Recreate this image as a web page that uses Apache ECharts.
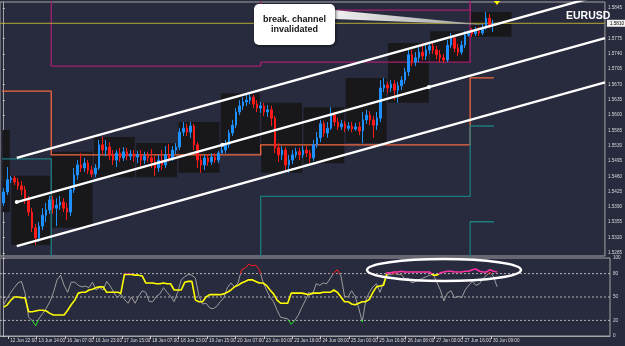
<!DOCTYPE html>
<html><head><meta charset="utf-8">
<script src="https://cdn.jsdelivr.net/npm/echarts@6/dist/echarts.min.js"></script>
<style>html,body{margin:0;padding:0;background:#282a3e;}#c{width:625px;height:346px;}</style>
</head><body><div id="c"></div>
<script>
// 2-hour candles [open, close, low, high]; candle i covers hourly bars 2i and 2i+1
const candles = [
[1.5399,1.5424,1.5392,1.5433],[1.5424,1.5452,1.5417,1.5481],[1.5452,1.5456,1.5445,1.5461],[1.5456,1.5447,1.5440,1.5461],
[1.5447,1.5438,1.5429,1.5456],[1.5438,1.5429,1.5417,1.5449],[1.5429,1.5406,1.5397,1.5438],[1.5406,1.5378,1.5369,1.5415],
[1.5378,1.5342,1.5333,1.5387],[1.5342,1.5319,1.5303,1.5351],[1.5319,1.5346,1.5310,1.5355],[1.5346,1.5371,1.5337,1.5387],
[1.5371,1.5383,1.5355,1.5399],[1.5383,1.5406,1.5374,1.5415],[1.5406,1.5387,1.5374,1.5415],[1.5387,1.5394,1.5346,1.5410],
[1.5394,1.5401,1.5383,1.5415],[1.5401,1.5387,1.5378,1.5410],[1.5387,1.5378,1.5360,1.5399],[1.5378,1.5429,1.5369,1.5438],
[1.5429,1.5463,1.5422,1.5479],[1.5463,1.5486,1.5452,1.5497],[1.5486,1.5479,1.5470,1.5513],[1.5479,1.5490,1.5470,1.5502],
[1.5490,1.5474,1.5465,1.5497],[1.5474,1.5465,1.5458,1.5484],[1.5465,1.5479,1.5458,1.5488],[1.5479,1.5532,1.5474,1.5543],
[1.5532,1.5520,1.5511,1.5550],[1.5520,1.5527,1.5506,1.5543],[1.5527,1.5509,1.5497,1.5538],[1.5509,1.5497,1.5486,1.5520],
[1.5497,1.5513,1.5481,1.5520],[1.5513,1.5502,1.5493,1.5525],[1.5502,1.5516,1.5495,1.5527],[1.5516,1.5506,1.5497,1.5525],
[1.5506,1.5511,1.5497,1.5520],[1.5511,1.5504,1.5493,1.5520],[1.5504,1.5509,1.5490,1.5518],[1.5509,1.5497,1.5484,1.5520],
[1.5497,1.5506,1.5488,1.5516],[1.5506,1.5502,1.5493,1.5516],[1.5502,1.5493,1.5479,1.5522],[1.5493,1.5479,1.5461,1.5506],
[1.5479,1.5497,1.5470,1.5509],[1.5497,1.5486,1.5474,1.5520],[1.5486,1.5509,1.5479,1.5529],[1.5509,1.5502,1.5493,1.5534],
[1.5502,1.5520,1.5495,1.5529],[1.5520,1.5527,1.5511,1.5536],[1.5527,1.5561,1.5520,1.5570],[1.5561,1.5570,1.5552,1.5584],
[1.5570,1.5561,1.5552,1.5580],[1.5561,1.5575,1.5548,1.5584],[1.5575,1.5532,1.5520,1.5580],[1.5532,1.5497,1.5479,1.5538],
[1.5497,1.5486,1.5468,1.5509],[1.5486,1.5502,1.5474,1.5509],[1.5502,1.5493,1.5484,1.5511],[1.5493,1.5504,1.5486,1.5513],
[1.5504,1.5497,1.5490,1.5513],[1.5497,1.5513,1.5490,1.5518],[1.5513,1.5520,1.5513,1.5529],[1.5520,1.5532,1.5513,1.5543],
[1.5532,1.5559,1.5525,1.5566],[1.5559,1.5577,1.5552,1.5589],[1.5577,1.5607,1.5570,1.5616],[1.5607,1.5621,1.5600,1.5634],
[1.5621,1.5630,1.5612,1.5641],[1.5630,1.5634,1.5621,1.5648],[1.5634,1.5641,1.5625,1.5650],[1.5641,1.5625,1.5616,1.5646],
[1.5625,1.5616,1.5607,1.5634],[1.5616,1.5621,1.5605,1.5630],[1.5621,1.5607,1.5598,1.5628],[1.5607,1.5612,1.5596,1.5623],
[1.5612,1.5593,1.5575,1.5621],[1.5593,1.5525,1.5513,1.5598],[1.5525,1.5509,1.5493,1.5536],[1.5509,1.5520,1.5497,1.5529],
[1.5520,1.5486,1.5474,1.5527],[1.5486,1.5497,1.5468,1.5509],[1.5497,1.5509,1.5488,1.5520],[1.5509,1.5516,1.5502,1.5525],
[1.5516,1.5509,1.5497,1.5525],[1.5509,1.5520,1.5502,1.5529],[1.5520,1.5513,1.5504,1.5529],[1.5513,1.5502,1.5490,1.5520],
[1.5502,1.5532,1.5495,1.5543],[1.5532,1.5548,1.5525,1.5561],[1.5548,1.5580,1.5538,1.5589],[1.5580,1.5559,1.5550,1.5587],
[1.5559,1.5570,1.5548,1.5584],[1.5570,1.5600,1.5566,1.5618],[1.5600,1.5584,1.5575,1.5607],[1.5584,1.5573,1.5566,1.5593],
[1.5573,1.5580,1.5566,1.5589],[1.5580,1.5570,1.5561,1.5587],[1.5570,1.5575,1.5564,1.5584],[1.5575,1.5568,1.5561,1.5584],
[1.5568,1.5573,1.5564,1.5582],[1.5573,1.5564,1.5554,1.5584],[1.5564,1.5589,1.5536,1.5607],[1.5589,1.5600,1.5580,1.5612],
[1.5600,1.5589,1.5577,1.5609],[1.5589,1.5577,1.5548,1.5598],[1.5577,1.5593,1.5566,1.5607],[1.5593,1.5662,1.5584,1.5680],
[1.5662,1.5669,1.5653,1.5685],[1.5669,1.5662,1.5650,1.5676],[1.5662,1.5671,1.5653,1.5680],[1.5671,1.5657,1.5634,1.5680],
[1.5657,1.5667,1.5628,1.5676],[1.5667,1.5680,1.5657,1.5689],[1.5680,1.5699,1.5671,1.5708],[1.5699,1.5738,1.5689,1.5749],
[1.5738,1.5721,1.5712,1.5749],[1.5721,1.5731,1.5712,1.5744],[1.5731,1.5744,1.5721,1.5758],[1.5744,1.5735,1.5726,1.5765],
[1.5735,1.5749,1.5726,1.5763],[1.5749,1.5758,1.5740,1.5767],[1.5758,1.5749,1.5740,1.5767],[1.5749,1.5738,1.5728,1.5758],
[1.5738,1.5731,1.5721,1.5749],[1.5731,1.5726,1.5719,1.5740],[1.5726,1.5760,1.5721,1.5772],[1.5760,1.5776,1.5753,1.5788],
[1.5776,1.5753,1.5744,1.5783],[1.5753,1.5744,1.5735,1.5763],[1.5744,1.5760,1.5738,1.5770],[1.5760,1.5783,1.5753,1.5792],
[1.5783,1.5790,1.5779,1.5792],[1.5790,1.5786,1.5779,1.5799],[1.5786,1.5792,1.5781,1.5802],[1.5792,1.5788,1.5781,1.5802],
[1.5788,1.5799,1.5783,1.5808],[1.5799,1.5822,1.5795,1.5836],[1.5822,1.5806,1.5799,1.5831],[1.5806,1.5810,1.5790,1.5818]
];
// oscillators (one value per 2-hour bar)
const fastOsc = [40,49,56,62,68,70,55,24,20,13, 23,29,36,44,56,72,78,65,56,69, 69,65,63,64,62,69,59,62,59,70,
 64,56,49,54,47,42,50,42,51,58, 56,44,44,51,54,62,56,51,44,56, 72,76,79,78,74,51,41,42,36,35,
 38,44,49,62,68,63,68,85,87,92, 90,91,85,70,59,50,44,33,24,23, 22,15,20,27,37,46,56,53,67,65,
 68,67,74,81,85,77,51,50,58,51, 36,18,46,56,63,67,56,69,78,79, 80,79,79,73,74,68,70,72,74,76,
 78,79,69,59,45,55,58,49,51,49, 59,65,70,65,67,73,78,82,76,63];
const slowOsc = [37,40,46,50,50,49,49,31,31,32, 33,33,32,29,27,27,27,27,33,40, 46,55,56,56,59,60,62,63,63,56,
 56,56,56,55,79,79,79,78,78,77, 68,68,68,67,67,68,67,67,59,59, 59,69,70,70,46,44,44,50,53,53,
 53,53,54,56,59,63,65,68,70,72, 72,70,68,68,65,59,54,46,42,42, 42,55,55,55,55,54,53,55,55,55,
 56,56,56,59,56,50,44,44,41,40, 42,44,44,47,56,63,64,65,81,81, 82,82,83,82,82,82,82,82,82,82,
 82,78,78,81,82,83,83,82,82,82, 83,83,85,86,83,82,82,85,83,82];
// axes
const timeTickHours = [3,19,35,51,67,83,99,115,131,147,163,179,195,211,227,243,259,275];
const timeTickLabels = ['12 Jun 22:00','13 Jun 14:00','16 Jun 07:00','16 Jun 23:00','17 Jun 15:00','18 Jun 07:00',
 '18 Jun 23:00','19 Jun 15:00','20 Jun 07:00','23 Jun 00:00','23 Jun 16:00','24 Jun 08:00','25 Jun 00:00',
 '25 Jun 16:00','26 Jun 08:00','27 Jun 00:00','27 Jun 16:00','30 Jun 09:00'];
const priceTicks = [1.5285,1.5320,1.5355,1.5390,1.5425,1.5460,1.5495,1.5530,1.5565,1.5600,1.5635,1.5670,1.5705,1.5740,1.5775,1.5810,1.5845];
const oscTicks = [0,20,50,80,100];
const oscLevels = [20,50,80];
// daily range boxes (hour index of first/last bar of each day, day high/low)
const dayFirstHour = [0,5,28,52,76,100,124,147,171,195,219,243,266];
const dayLastHour  = [4,27,51,75,99,123,146,170,194,218,242,265,289];
const dayHigh = [1.5566,1.5461,1.5516,1.5550,1.5536,1.5584,1.5650,1.5628,1.5618,1.5685,1.5765,1.5792,1.5836];
const dayLow  = [1.5378,1.5303,1.5342,1.5458,1.5458,1.5468,1.5513,1.5468,1.5490,1.5536,1.5628,1.5719,1.5779];
// weekly levels (values outside the visible range are drawn off-chart)
const weekEdges = [-0.5,27.5,146.5,265.5,279];
const magentaLow  = [1.5950,1.5712,1.5721,1.5950];
const magentaHigh = [1.5950,1.5950,1.5840,1.5950];
const orangeLevel = [1.5655,1.5509,1.5532,1.5685];
const tealHigh = [1.5500,1.5150,1.5414,1.5575];
const tealLow  = [1.5150,1.5150,1.5150,1.5356];
// channel (hour, price)
const channelHours = [7.9,342.1];
const upperChannel = [1.5502,1.5877];
const lowerChannel = [1.5300,1.5675];
const middleHours  = [7.9,124.75,242.1,342.1];
const middleChannel = [1.5401,1.5532,1.5664,1.5776];

const FONT = 'Liberation Sans';
const XMIN=-1.62, XMAX=342.1;
const lastClose = candles[candles.length-1][1];
const candleData = candles.map((c,i)=>[2*i+0.5, c[0], c[1], c[2], c[3]]);
const oscX = i => 2*i+0.5;
const fastData = fastOsc.map((v,i)=>[oscX(i),v]);
const slowData = slowOsc.map((v,i)=>[oscX(i),v]);
const boxAreas = dayFirstHour.map((f,k)=>[{coord:[f-0.2, dayHigh[k]]},{coord:[dayLastHour[k], dayLow[k]]}]);
function stepData(levels){const d=[];levels.forEach((v,k)=>{d.push([weekEdges[k],v],[weekEdges[k+1],v]);});return d;}
function stepSeries(levels,color){return {type:'line',xAxisIndex:0,yAxisIndex:0,data:stepData(levels),symbol:'none',
  lineStyle:{color:color,width:1.3},silent:true,z:3,clip:true};}
function chanSeries(hours,prices,withDots){return {type:'line',xAxisIndex:0,yAxisIndex:0,
  data:hours.map((h,k)=>({value:[h,prices[k]],symbolSize:(withDots&&k<hours.length-1)?4:0})),
  symbol:'circle',showSymbol:true,itemStyle:{color:'#fff'},lineStyle:{color:'#fff',width:2.4},silent:true,z:6,clip:true};}
function levelSeries(v){return {type:'line',xAxisIndex:1,yAxisIndex:1,data:[[XMIN,v],[XMAX,v]],symbol:'none',silent:true,z:1,
  lineStyle:{color:'#b4b4b4',width:1,type:[2,2]}};}

const chart = echarts.init(document.getElementById('c'),null,{renderer:'canvas'});
const series = [
    // 0 candles with daily range boxes
    {type:'candlestick',xAxisIndex:0,yAxisIndex:0,data:candleData,barWidth:2,z:4,silent:true,
     itemStyle:{color:'#1e90ff',color0:'#ff1a1a',borderColor:'#1e90ff',borderColor0:'#ff1a1a',borderWidth:1},
     markArea:{silent:true,z:1,itemStyle:{color:'#18181b',borderWidth:0},label:{show:false},data:boxAreas}},
    // 1-5 weekly level lines
    stepSeries(magentaLow,'#a3206f'),
    stepSeries(magentaHigh,'#a3206f'),
    stepSeries(orangeLevel,'#f2683f'),
    stepSeries(tealHigh,'#1d7c7e'),
    stepSeries(tealLow,'#1d7c7e'),
    // 6 bid line
    {type:'line',xAxisIndex:0,yAxisIndex:0,data:[[XMIN,lastClose],[XMAX,lastClose]],symbol:'none',silent:true,z:3,
     lineStyle:{color:'#b5aa34',width:1},
     endLabel:{show:true,formatter:lastClose.toFixed(4),backgroundColor:'#f2f2f2',color:'#000',
       fontSize:4.6,fontFamily:FONT,padding:[1,3],distance:2}},
    // 7-9 channel
    chanSeries(channelHours,upperChannel,false),
    chanSeries(middleHours,middleChannel,true),
    chanSeries(channelHours,lowerChannel,false),
    // 10 fast oscillator
    {type:'line',xAxisIndex:1,yAxisIndex:1,data:fastData,symbol:'none',lineStyle:{width:1},z:3,silent:true},
    // 11 slow oscillator
    {type:'line',xAxisIndex:1,yAxisIndex:1,data:slowData,symbol:'none',lineStyle:{width:1.6},z:4,silent:true}
];
oscLevels.forEach(v=>series.push(levelSeries(v)));

chart.setOption({
  animation:false,
  backgroundColor:'#282a3e',
  title:{text:'EURUSD',left:561,top:6,textStyle:{color:'#ffffff',fontSize:10.5,fontWeight:'bold',fontFamily:FONT}},
  grid:[
    {left:-2,right:15,top:2,height:254,show:true,borderColor:'#a4a4a4',borderWidth:1,backgroundColor:'transparent'},
    {left:-2,right:15,top:258,height:78,show:true,borderColor:'#a4a4a4',borderWidth:1,backgroundColor:'transparent'}
  ],
  xAxis:[
    {type:'value',gridIndex:0,min:XMIN,max:XMAX,show:false},
    {type:'value',gridIndex:1,min:XMIN,max:XMAX,
     axisLine:{show:true,lineStyle:{color:'#a4a4a4'}},
     axisTick:{show:true,customValues:timeTickHours,length:3,lineStyle:{color:'#c8c8c8'}},
     axisLabel:{customValues:timeTickHours,formatter:v=>timeTickLabels[timeTickHours.indexOf(v)]||'',
       align:'left',color:'#dcdcdc',fontSize:4.6,fontFamily:FONT,margin:2,padding:[0,0,0,2]},
     splitLine:{show:false}}
  ],
  yAxis:[
    {type:'value',gridIndex:0,position:'right',min:1.52776,max:1.58587,
     axisLine:{show:true,lineStyle:{color:'#a4a4a4'}},
     axisTick:{show:true,customValues:priceTicks,length:2,lineStyle:{color:'#c8c8c8'}},
     axisLabel:{customValues:priceTicks,formatter:v=>v.toFixed(4),color:'#dcdcdc',fontSize:4.6,fontFamily:FONT,margin:3},
     splitLine:{show:false}},
    {type:'value',gridIndex:1,position:'right',min:0,max:100,
     axisLine:{show:true,lineStyle:{color:'#a4a4a4'}},
     axisTick:{show:true,customValues:oscTicks,length:2,lineStyle:{color:'#c8c8c8'}},
     axisLabel:{customValues:oscTicks,formatter:v=>String(v),color:'#dcdcdc',fontSize:4.6,fontFamily:FONT,margin:3},
     splitLine:{show:false}}
  ],
  visualMap:[
    {type:'piecewise',show:false,seriesIndex:10,dimension:1,
     pieces:[{gte:0,lt:20,color:'#22e022'},{gte:20,lte:80,color:'#9c9c9c'},{gt:80,lte:100,color:'#ff1a1a'}]},
    {type:'piecewise',show:false,seriesIndex:11,dimension:1,
     pieces:[{gte:0,lte:80,color:'#ffff00'},{gt:80,lte:100,color:'#ff2fa5'}]}
  ],
  series:series,
  graphic:[
    {type:'polygon',z:100,shape:{points:[[334,10],[334,19],[488,25]]},
     style:{fill:{type:'linear',x:0,y:0,x2:1,y2:0,colorStops:[{offset:0,color:'#f0f0f0'},{offset:1,color:'#9a9a9a'}]}}},
    {type:'rect',z:101,shape:{x:254,y:4,width:81,height:41,r:5},
     style:{fill:'#ffffff',shadowBlur:3,shadowColor:'rgba(0,0,0,0.6)',shadowOffsetX:1,shadowOffsetY:1}},
    {type:'text',z:102,x:294.5,y:24.5,
     style:{text:'break. channel\ninvalidated',fontFamily:FONT,fontWeight:'bold',fontSize:9,lineHeight:10,
       fill:'#141414',align:'center',verticalAlign:'middle'}},
    {type:'ellipse',z:100,shape:{cx:444,cy:270,rx:77,ry:11},style:{fill:'none',stroke:'#ffffff',lineWidth:2.5}},
    {type:'polygon',z:100,shape:{points:[[494,1],[500,1],[497,5]]},style:{fill:'#ffff00'}}
  ]
});
</script></body></html>
